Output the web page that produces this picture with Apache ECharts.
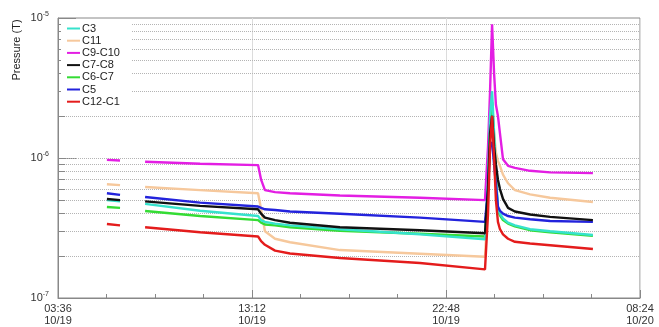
<!DOCTYPE html>
<html>
<head>
<meta charset="utf-8">
<script src="https://cdn.jsdelivr.net/npm/echarts@6/dist/echarts.min.js"></script>
<style>
html, body { margin: 0; padding: 0; background: #fff; }
#chart { width: 659px; height: 327px; }
</style>
</head>
<body>
<div id="chart"></div>
<script>
/* hours after 03:36 10/19 */
var hours = [2.42, 3.07, 3.5, 4.31, 7.03, 9.90, 10.05, 10.24, 10.74, 11.48, 13.95, 17.91, 21.13,
    21.28, 21.38, 21.48, 21.58, 21.67, 21.77, 21.87, 22.02, 22.27, 22.61, 23.36, 24.35, 26.47];

var c3 = [5.0e-7, 4.9e-7, null, 4.7e-7, 4.2e-7, 3.85e-7, 3.6e-7, 3.5e-7, 3.4e-7, 3.3e-7, 3.1e-7, 2.85e-7, 2.63e-7,
    7e-7, 2e-6, 3e-6, 1.5e-6, 8e-7, 4.3e-7, 4.0e-7, 3.7e-7, 3.45e-7, 3.3e-7, 3.1e-7, 3.0e-7, 2.82e-7];
var c11 = [6.5e-7, 6.4e-7, null, 6.2e-7, 5.9e-7, 5.6e-7, 4.3e-7, 3.0e-7, 2.65e-7, 2.5e-7, 2.2e-7, 2.07e-7, 1.97e-7,
    5e-7, 1.5e-6, 2.5e-6, 1.5e-6, 1.1e-6, 9.5e-7, 8.8e-7, 7.6e-7, 6.6e-7, 5.9e-7, 5.5e-7, 5.2e-7, 4.85e-7];
var c9c10 = [9.7e-7, 9.6e-7, null, 9.4e-7, 9.1e-7, 8.9e-7, 7.0e-7, 5.9e-7, 5.7e-7, 5.6e-7, 5.4e-7, 5.2e-7, 5.0e-7,
    1.2e-6, 3e-6, 9e-6, 4e-6, 2.4e-6, 2.0e-6, 1.5e-6, 9.8e-7, 8.8e-7, 8.5e-7, 8.1e-7, 7.9e-7, 7.8e-7];
var c7c8 = [5.1e-7, 5.0e-7, null, 4.9e-7, 4.55e-7, 4.3e-7, 4.0e-7, 3.75e-7, 3.6e-7, 3.45e-7, 3.2e-7, 3.05e-7, 2.9e-7,
    6e-7, 1.5e-6, 2e-6, 1.2e-6, 9e-7, 7e-7, 6.0e-7, 5.1e-7, 4.4e-7, 4.15e-7, 3.95e-7, 3.8e-7, 3.6e-7];
var c6c7 = [4.47e-7, 4.4e-7, null, 4.18e-7, 3.85e-7, 3.6e-7, 3.45e-7, 3.35e-7, 3.3e-7, 3.2e-7, 3.02e-7, 2.88e-7, 2.75e-7,
    6e-7, 1.5e-6, 2.5e-6, 1.3e-6, 7e-7, 4.2e-7, 3.9e-7, 3.6e-7, 3.4e-7, 3.25e-7, 3.05e-7, 2.95e-7, 2.78e-7];
var c5 = [5.6e-7, 5.45e-7, null, 5.27e-7, 4.8e-7, 4.5e-7, 4.4e-7, 4.3e-7, 4.25e-7, 4.15e-7, 4.0e-7, 3.75e-7, 3.5e-7,
    6e-7, 1.2e-6, 1.3e-6, 9e-7, 6.5e-7, 4.5e-7, 4.2e-7, 4.0e-7, 3.85e-7, 3.75e-7, 3.65e-7, 3.55e-7, 3.5e-7];
var c12c1 = [3.38e-7, 3.3e-7, null, 3.2e-7, 2.95e-7, 2.75e-7, 2.55e-7, 2.4e-7, 2.18e-7, 2.08e-7, 1.93e-7, 1.78e-7, 1.6e-7,
    4e-7, 1.2e-6, 2e-6, 1e-6, 5e-7, 3.5e-7, 3.1e-7, 2.85e-7, 2.65e-7, 2.52e-7, 2.45e-7, 2.38e-7, 2.24e-7];

var xLabels = ['03:36\n10/19', '13:12\n10/19', '22:48\n10/19', '08:24\n10/20'];
var gridValues = [2e-7, 3e-7, 4e-7, 5e-7, 6e-7, 7e-7, 8e-7, 9e-7, 1e-6,
    2e-6, 3e-6, 4e-6, 5e-6, 6e-6, 7e-6, 8e-6, 9e-6];

var names = ['C3', 'C11', 'C9-C10', 'C7-C8', 'C6-C7', 'C5', 'C12-C1'];
var colors = {'C3': '#36e2cc', 'C11': '#f6c89c', 'C9-C10': '#e31ee3', 'C7-C8': '#111111',
    'C6-C7': '#34dc34', 'C5': '#2323dc', 'C12-C1': '#e41c1c'};
var values = {'C3': c3, 'C11': c11, 'C9-C10': c9c10, 'C7-C8': c7c8, 'C6-C7': c6c7, 'C5': c5, 'C12-C1': c12c1};
/* draw order */
var drawOrder = ['C11', 'C9-C10', 'C6-C7', 'C3', 'C5', 'C7-C8', 'C12-C1'];

function pairs(vals) {
    return hours.map(function (h, i) { return [h, vals[i] == null ? '-' : vals[i]]; });
}

/* 网格线和小刻度挂在一个看不见的序列上 */
var series = [{
    type: 'line', data: [[0, 1e-7]], z: 1, silent: true, symbol: 'none',
    lineStyle: {opacity: 0},
    markLine: {
        z: 1, symbol: 'none', silent: true, animation: false, label: {show: false},
        lineStyle: {color: '#b4b4b4', type: 'dotted', width: 1},
        data: gridValues.map(function (v) { return [{coord: [0, v]}, {coord: [28.8, v]}]; })
    }
}, {
    type: 'line', data: [[0, 1e-7]], z: 1, silent: true, symbol: 'none',
    lineStyle: {opacity: 0},
    markLine: {
        z: 1, symbol: 'none', silent: true, animation: false, label: {show: false},
        lineStyle: {color: '#888', type: 'solid', width: 1},
        data: gridValues.map(function (v) { return [{coord: [0, v]}, {coord: [0.35, v]}]; })
    }
}];
drawOrder.forEach(function (n, k) {
    series.push({
        name: n, type: 'line', data: pairs(values[n]), z: 2 + k,
        symbol: 'none', showSymbol: false, connectNulls: false,
        lineStyle: {color: colors[n], width: 2.4}, itemStyle: {color: colors[n]}
    });
});

var chart = echarts.init(document.getElementById('chart'));
chart.setOption({
    animation: false,
    textStyle: {fontFamily: 'Liberation Sans, Arial, sans-serif'},
    grid: {left: 58, right: 19, top: 18, bottom: 29, show: true, borderColor: '#888', borderWidth: 1},
    legend: {
        data: names, orient: 'vertical', left: 61, top: 20, icon: 'rect', z: 20,
        itemWidth: 13, itemHeight: 2, itemGap: 1.2,
        backgroundColor: '#fff', padding: [3, 12, 4, 6],
        textStyle: {fontSize: 11, color: '#222', lineHeight: 10, padding: [0, 0, 0, -3]}
    },
    graphic: [{
        type: 'text', x: 17, y: 50, rotation: Math.PI / 2,
        style: {text: 'Pressure (T)', fontSize: 11, fill: '#222', align: 'center', verticalAlign: 'middle',
            fontFamily: 'Liberation Sans, Arial, sans-serif'}
    }],
    xAxis: {
        type: 'value', min: 0, max: 28.8, interval: 9.6,
        axisLine: {lineStyle: {color: '#888'}},
        axisTick: {inside: true, length: 8, lineStyle: {color: '#888'}},
        minorTick: {show: true, splitNumber: 4, length: 4, lineStyle: {color: '#888'}},
        splitLine: {show: true, lineStyle: {color: '#dcdcdc'}},
        axisLabel: {
            color: '#333', fontSize: 11, lineHeight: 12, margin: 5,
            formatter: function (v) { return xLabels[Math.round(v / 9.6)] || ''; }
        }
    },
    yAxis: {
        type: 'log', logBase: 10, min: 1e-7, max: 1e-5,
        axisLine: {show: true, lineStyle: {color: '#888'}},
        axisTick: {inside: true, length: 18, lineStyle: {color: '#888'}},
        splitLine: {show: false},
        axisLabel: {
            margin: 9,
            formatter: function (v) { return '{b|10}{s|' + Math.round(Math.log10(v)) + '}'; },
            rich: {
                b: {fontSize: 11, color: '#333', lineHeight: 14},
                s: {fontSize: 7, color: '#333', lineHeight: 8, verticalAlign: 'top'}
            }
        }
    },
    series: series
});
</script>
</body>
</html>
